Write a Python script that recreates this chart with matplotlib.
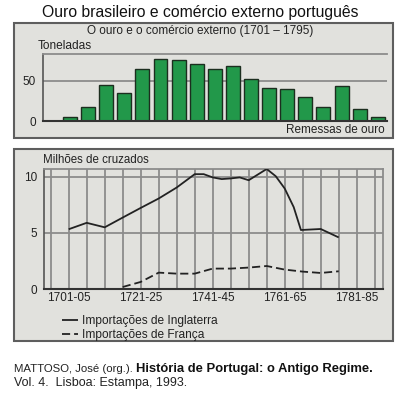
import matplotlib
matplotlib.use('Agg')
import matplotlib.pyplot as plt
from matplotlib.patches import Rectangle

plt.rcParams['font.family'] = ['Liberation Sans', 'DejaVu Sans']

# ---------------- data ----------------
gold_values = [5, 17, 45, 35, 65, 77, 76, 71, 65, 68, 52, 41, 40, 30, 18, 44, 15, 5]
gold_yticks = [0, 50]

periods = ['1696-00', '1701-05', '1706-10', '1711-15', '1716-20', '1721-25', '1726-30',
           '1731-35', '1736-40', '1741-45', '1746-50', '1751-55', '1756-60',
           '1761-65', '1766-70', '1771-75', '1776-80', '1781-85', '1786-90']
shown_periods = ['1701-05', '1721-25', '1741-45', '1761-65', '1781-85']

# positions in 5-year periods counted from 1701-05 (=0)
ing_x = [0, 1, 2, 3, 4, 5, 6, 7, 7.5, 8, 8.5, 9, 9.5, 10, 11, 11.5, 12, 12.5, 12.9, 14, 15]
ing_y = [5.33, 5.9, 5.5, 6.37, 7.23, 8.07, 9.05, 10.24, 10.24, 9.95, 9.8, 9.86, 9.95,
         9.7, 10.7, 10.06, 8.96, 7.3, 5.26, 5.35, 4.6]
fra_x = [3, 4, 5, 6, 7, 8, 9, 10, 11, 12, 13, 14, 15]
fra_y = [0.18, 0.63, 1.46, 1.37, 1.37, 1.82, 1.82, 1.91, 2.05, 1.73, 1.55, 1.43, 1.58]
trade_yticks = [0, 5, 10]

# ---------------- layout ----------------
W, H = 400, 397
fig = plt.figure(figsize=(W / 100, H / 100), dpi=100)
fig.patch.set_facecolor('white')

def fx(px):
    return px / W

def fy(py):
    return 1 - py / H

PANEL = '#e1e1dd'
BORDER = '#5e5e5e'
GRID = '#8c8c8c'
DARK = '#333333'
GREEN = '#22984a'
TXT = '#222222'

# panel backgrounds
for (x0, y0, x1, y1) in [(14, 23, 393, 138), (14, 149, 393, 341)]:
    fig.patches.append(Rectangle((fx(x0), fy(y1)), (x1 - x0) / W, (y1 - y0) / H,
                                 transform=fig.transFigure, facecolor=PANEL,
                                 edgecolor=BORDER, linewidth=1.5, zorder=-5))

fig.text(0.5, fy(12), 'Ouro brasileiro e comércio externo português',
         ha='center', va='center', fontsize=11.3, color='#111111')

# ---------------- top panel ----------------
ax1 = fig.add_axes([fx(43), fy(121), fx(344), (121 - 54.3) / H])
ax1.set_zorder(2)
ax1.set_facecolor(PANEL)
xs = list(range(len(gold_values)))
ax1.bar(xs, gold_values, width=0.77, color=GREEN, edgecolor='#1c2e1f',
        linewidth=1.0, zorder=3)
ax1.set_xlim(-1.49, 17.51)
ax1.set_ylim(0, 83)
ax1.set_yticks(gold_yticks)
ax1.set_xticks([])
ax1.tick_params(axis='y', length=0, pad=5, labelsize=8.5, labelcolor=TXT)
ax1.grid(axis='y', color=GRID, linewidth=1.3, zorder=1)
ax1.set_axisbelow(True)
ax1.spines['right'].set_visible(False)
ax1.spines['top'].set_color(GRID)
ax1.spines['top'].set_linewidth(1.3)
ax1.spines['left'].set_color('#555555')
ax1.spines['left'].set_linewidth(1.2)
ax1.spines['bottom'].set_color(DARK)
ax1.spines['bottom'].set_linewidth(1.5)
ax1.spines['bottom'].set_zorder(4)

fig.text(0.5, fy(31), 'O ouro e o comércio externo (1701 – 1795)', ha='center',
         va='center', fontsize=8.5, color=TXT)
fig.text(fx(38), fy(46), 'Toneladas', ha='left', va='center', fontsize=8.6,
         color=TXT)
fig.text(fx(385), fy(130), 'Remessas de ouro', ha='right', va='center',
         fontsize=8.5, color=TXT)

# ---------------- bottom panel ----------------
ax2 = fig.add_axes([fx(44), fy(289), fx(339), (289 - 169) / H])
ax2.set_zorder(2)
ax2.set_facecolor(PANEL)
ax2.plot(ing_x, ing_y, color='#222222', linewidth=1.3, zorder=4,
         label='Importações de Inglaterra', solid_capstyle='butt')
ax2.plot(fra_x, fra_y, color='#222222', linewidth=1.3, zorder=4,
         dashes=(4.5, 2.2), label='Importações de França')
ax2.set_xlim(-1.372, 17.46)
ax2.set_ylim(0, 10.7)
tick_pos = list(range(-1, 18))
ax2.set_xticks(tick_pos)
ax2.set_xticklabels([p if p in shown_periods else '' for p in periods])
ax2.set_yticks(trade_yticks)
ax2.tick_params(length=0, labelsize=8.5, labelcolor=TXT)
ax2.tick_params(axis='x', pad=2.5)
ax2.tick_params(axis='y', pad=5)
ax2.grid(True, color=GRID, linewidth=1.3, zorder=1)
ax2.set_axisbelow(True)
ax2.spines['right'].set_color(GRID)
ax2.spines['right'].set_linewidth(1.3)
ax2.spines['top'].set_color(GRID)
ax2.spines['top'].set_linewidth(1.3)
ax2.spines['left'].set_color('#555555')
ax2.spines['left'].set_linewidth(1.2)
ax2.spines['bottom'].set_color(DARK)
ax2.spines['bottom'].set_linewidth(1.5)

fig.text(fx(43), fy(160), 'Milhões de cruzados', ha='left', va='center',
         fontsize=8.3, color=TXT)

leg = fig.legend(handles=ax2.get_lines(), loc='upper left',
                 bbox_to_anchor=(fx(62), fy(315)), frameon=False,
                 fontsize=8.6, handlelength=1.3, handletextpad=0.4,
                 labelspacing=0.15, borderpad=0, borderaxespad=0)
for t in leg.get_texts():
    t.set_color(TXT)

# ---------------- source ----------------
t1 = fig.text(fx(14), fy(369), 'MATTOSO, José (org.). ', ha='left', va='center',
              fontsize=8.2, color=TXT)
fig.canvas.draw()
r = fig.canvas.get_renderer()
bb = t1.get_window_extent(renderer=r)
fig.text(bb.x1 / fig.bbox.width, fy(369), 'História de Portugal: o Antigo Regime.',
         ha='left', va='center', fontsize=9.4, fontweight='bold', color='#111111')
fig.text(fx(14), fy(383), 'Vol. 4.  Lisboa: Estampa, 1993.', ha='left', va='center',
         fontsize=9.0, color=TXT)

fig.savefig('out.png', dpi=100, facecolor='white')
